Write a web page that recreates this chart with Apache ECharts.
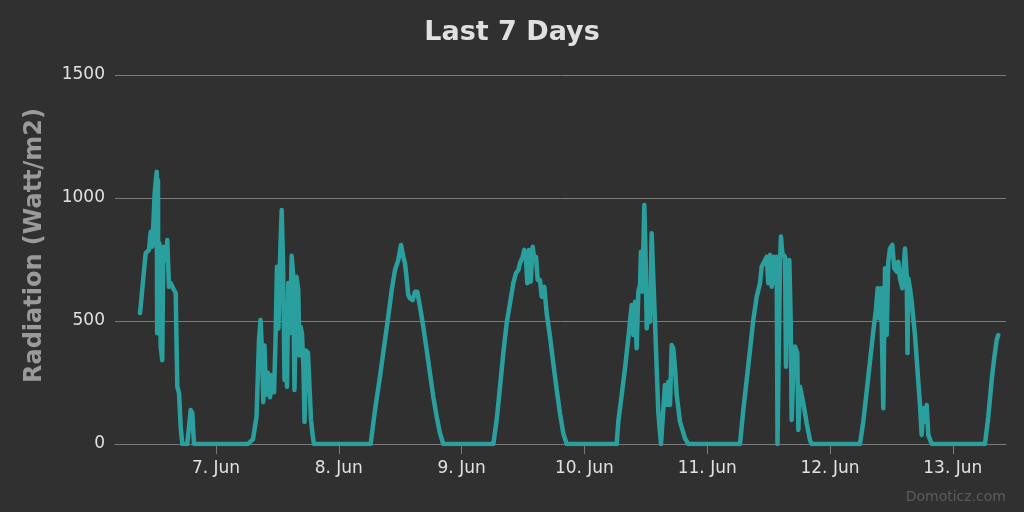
<!DOCTYPE html>
<html>
<head>
<meta charset="utf-8">
<script src="https://cdn.jsdelivr.net/npm/echarts@6/dist/echarts.min.js"></script>
<style>
  html, body { margin: 0; padding: 0; background: #303030; }
  #chart { width: 1024px; height: 512px; }
</style>
</head>
<body>
<div id="chart"></div>
<script>
// Hours since 6 Jun 00:00 (local) for each reading
const hours = [
  9.15, 9.40, 9.93, 10.26, 10.91, 11.24, 11.55, 12.02, 12.41, 12.50, 12.58, 12.66, 12.72, 12.92, 13.19, 13.50, 13.70, 14.17, 14.48, 14.81, 15.15, 15.79, 16.12, 16.44, 16.77, 17.10, 17.41, 18.39, 19.05, 19.37, 19.70,
  30.25, 31.23, 31.92, 32.40, 32.70, 32.99, 33.24, 33.48, 33.77, 34.16, 34.55, 34.94, 35.34, 35.63, 35.92, 36.21, 36.51, 36.84, 37.09, 37.39, 37.68, 37.88, 38.13, 38.46, 38.79, 39.05, 39.34, 39.73, 40.08, 40.32, 40.51, 40.81, 41.10, 41.30, 41.59, 41.98, 42.27, 42.57, 42.86, 43.15,
  54.23, 55.08, 56.05, 57.03, 57.67, 58.34, 58.98, 59.63, 60.16, 60.61, 60.94, 61.27, 61.58, 61.92, 62.44, 62.89, 63.34, 63.87, 64.51, 65.18, 65.82, 66.47, 67.13, 67.78, 68.42,
  78.20, 78.86, 79.51, 80.15, 80.81, 81.46, 82.10, 82.63, 83.08, 83.41, 83.94, 84.25, 84.59, 84.84, 85.17, 85.51, 85.90, 86.21, 86.54, 86.87, 87.32, 87.65, 88.16, 88.63, 89.28, 89.92, 90.59, 91.23, 91.88, 92.54,
  102.31, 102.63, 103.29, 103.94, 104.58, 104.91, 105.24, 105.56, 105.89, 106.22, 106.54, 106.87, 107.06, 107.32, 107.71, 107.98, 108.18, 108.49, 108.82, 109.15, 109.47, 109.80, 110.13, 110.44, 110.97, 111.30, 111.75, 112.09, 112.40, 112.73, 113.06, 113.37, 113.71, 114.04, 114.68, 115.66, 116.31,
  126.41, 127.06, 127.72, 128.37, 129.01, 129.68, 130.32, 130.65, 130.97, 131.63, 131.94, 132.27, 132.61, 132.92, 133.25, 133.58, 133.74, 133.94, 134.23, 134.42, 134.68, 135.21, 135.40, 135.73, 136.05, 136.32, 136.51, 136.83, 137.16, 137.61, 137.81, 138.14, 138.79, 139.45, 140.09, 140.43,
  149.86, 150.51, 151.17, 151.82, 152.46, 152.93, 153.32, 153.58, 153.97, 154.42, 154.75, 155.08, 155.39, 155.73, 156.18, 156.57, 157.04, 157.35, 157.68, 158.13, 158.66, 158.99, 159.15, 159.31, 159.63, 159.97, 160.28, 160.61, 160.94, 161.26, 161.59, 161.92, 162.24, 162.57, 162.90, 163.21, 163.88,
  174.29, 174.94, 175.60, 176.05, 176.58, 176.90
];
// Radiation (Watt/m2) at each reading
const radiation = [
  532, 585, 707, 776, 789, 863, 802, 1020, 1107, 450, 1000, 1073, 504, 817, 396, 341, 802, 748, 829, 639, 654, 626, 614, 233, 207, 70, 0, 0, 138, 126, 0,
  0, 20, 110, 420, 504, 380, 170, 400, 200, 290, 190, 280, 210, 420, 721, 470, 748, 951, 750, 260, 400, 233, 654, 450, 765, 695, 220, 680, 626, 360, 477, 450, 300, 90, 380, 370, 233, 100, 40, 0,
  0, 138, 274, 423, 518, 626, 707, 748, 809, 761, 734, 673, 606, 592, 585, 619, 619, 558, 477, 382, 287, 192, 111, 43, 0,
  0, 98, 233, 369, 491, 572, 653, 694, 707, 734, 761, 789, 748, 653, 789, 660, 802, 748, 761, 667, 667, 599, 639, 531, 436, 328, 220, 125, 43, 0,
  0, 91, 199, 308, 430, 497, 565, 443, 578, 389, 619, 646, 782, 619, 972, 741, 470, 606, 497, 857, 673, 497, 308, 131, 0, 0, 240, 159, 253, 159, 402, 389, 308, 199, 91, 23, 0,
  0, 138, 260, 382, 504, 599, 653, 721, 734, 761, 653, 768, 639, 761, 653, 761, 0, 0, 734, 843, 775, 761, 314, 734, 748, 504, 98, 300, 396, 370, 57, 233, 165, 84, 16, 0,
  0, 91, 213, 335, 457, 538, 633, 511, 633, 145, 714, 443, 741, 795, 809, 714, 700, 741, 673, 633, 795, 687, 370, 673, 633, 578, 511, 443, 348, 253, 159, 37, 145, 91, 159, 37, 0,
  0, 111, 260, 341, 423, 443
];
const tickDays = [7, 8, 9, 10, 11, 12, 13];
const monthNames = ['Jan','Feb','Mar','Apr','May','Jun','Jul','Aug','Sep','Oct','Nov','Dec'];
const yTicks = [0, 500, 1000, 1500];
const axisStartHour = 4.26;
const axisEndHour = 178.4;

const base = new Date(2020, 5, 6, 0, 0, 0).getTime();
const H = 3600000;
const data = hours.map((h, i) => [base + h * H, radiation[i]]);
const dayValues = tickDays.map(d => new Date(2020, 5, d).getTime());

const chart = echarts.init(document.getElementById('chart'), null, { renderer: 'canvas' });
chart.setOption({
  backgroundColor: '#303030',
  animation: false,
  textStyle: { fontFamily: 'DejaVu Sans' },
  title: {
    text: 'Last 7 Days',
    left: 'center',
    top: 14,
    textStyle: { color: '#e0e0e0', fontSize: 27, fontWeight: 'bold', fontFamily: 'DejaVu Sans' }
  },
  grid: { left: 115, right: 18, top: 75, bottom: 68 },
  xAxis: {
    type: 'value',
    min: base + axisStartHour * H,
    max: base + axisEndHour * H,
    axisLine: { show: true, lineStyle: { color: '#7a7a7a', width: 1 } },
    axisTick: { show: true, length: 10, customValues: dayValues, lineStyle: { color: '#7a7a7a' } },
    axisLabel: {
      customValues: dayValues,
      color: '#e0e0e0', fontSize: 17, margin: 16,
      formatter: v => { const d = new Date(v); return d.getDate() + '. ' + monthNames[d.getMonth()]; }
    },
    splitLine: { show: false }
  },
  yAxis: {
    type: 'value',
    min: yTicks[0], max: yTicks[yTicks.length - 1], interval: 500,
    name: 'Radiation (Watt/m2)',
    nameLocation: 'middle',
    nameGap: 68,
    nameTextStyle: { color: '#9a9a9a', fontSize: 24, fontWeight: 'bold', padding: [0, 0, 0, 28] },
    axisLine: { show: false },
    axisTick: { show: false },
    axisLabel: { color: '#e0e0e0', fontSize: 17, margin: 10, formatter: v => String(v) },
    splitLine: { lineStyle: { color: '#7a7a7a', width: 1 } }
  },
  graphic: [{
    type: 'text', right: 18, bottom: 8,
    style: { text: 'Domoticz.com', fill: '#5c5c5c', font: '14px "DejaVu Sans"' }
  }],
  series: [{
    type: 'line',
    data: data,
    showSymbol: false,
    lineStyle: { color: '#2b9e9e', width: 4.5, join: 'round', cap: 'round' },
    itemStyle: { color: '#2b9e9e' }
  }]
});
</script>
</body>
</html>
